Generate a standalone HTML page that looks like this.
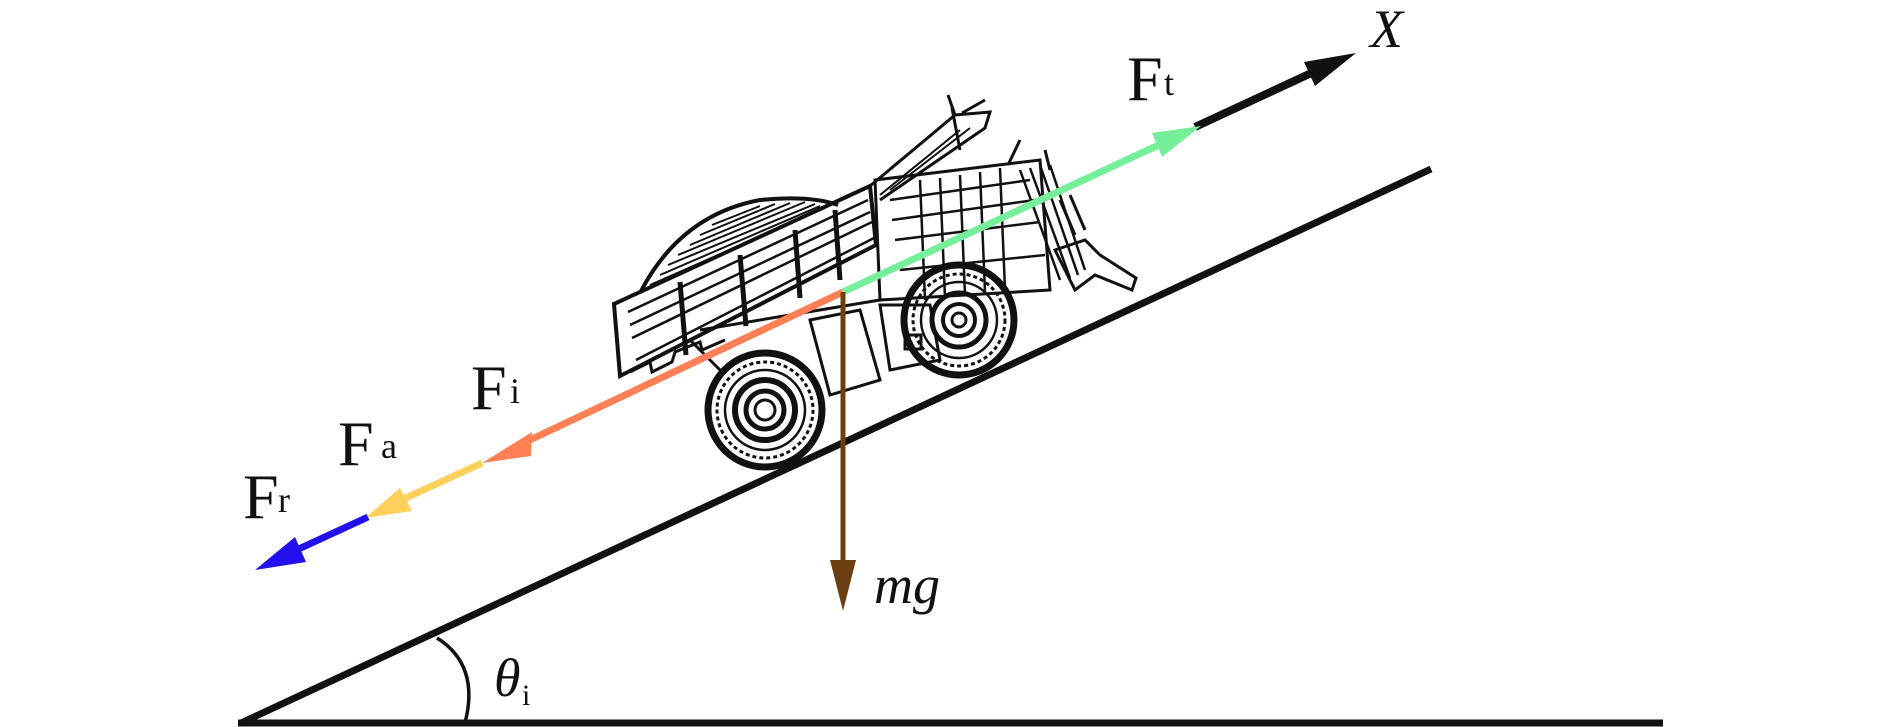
<!DOCTYPE html>
<html><head><meta charset="utf-8"><style>
html,body{margin:0;padding:0;background:#fff;}
svg{display:block;}
text{font-family:"Liberation Serif",serif;fill:#111;}
</style></head><body>
<svg width="1890" height="727" viewBox="0 0 1890 727" xmlns="http://www.w3.org/2000/svg">
<!-- ground & incline -->
<line x1="238" y1="723" x2="1663" y2="723" stroke="#111" stroke-width="7"/>
<line x1="241" y1="723" x2="1431" y2="169" stroke="#111" stroke-width="7"/>
<path d="M437,638 Q480,665 465,723" fill="none" stroke="#111" stroke-width="3.5"/>

<!-- truck (approximate line art) -->
<g fill="none" stroke="#111" stroke-width="3">
  <!-- load heap -->
  <path d="M640,293 Q680,215 760,200 Q810,195 838,205" stroke-width="4"/>
  <path d="M650,285 L825,208 M660,275 L820,206 M668,265 L815,204 M678,255 L805,202 M690,245 L790,203 M700,235 L775,204 M712,225 L760,206" stroke-width="2"/>
  <!-- dump body -->
  <path d="M614,304 L870,186 L876,245 L620,376 Z" stroke-width="4"/>
  <path d="M628,312 L868,200 M632,338 L872,222 M636,360 L874,238 M630,325 L870,212" stroke-width="2.5"/>
  <path d="M680,282 L686,355 M740,255 L746,326 M795,230 L800,298 M835,210 L840,280" stroke-width="5"/>
  <path d="M630,372 L650,362 L652,372 L672,362 L675,352 L700,342 L702,350 L725,340" stroke-width="3"/>
  <!-- canopy -->
  <path d="M870,186 L955,115 L990,112 L985,128 L880,200" stroke-width="3"/>
  <path d="M880,195 L960,130 M890,190 L970,128" stroke-width="2"/>
  <path d="M952,108 L960,150 M955,115 L948,95 M962,113 L985,100"/>
  <!-- cab / frame -->
  <path d="M875,180 L1040,160 L1050,290 L880,300 Z"/>
  <path d="M890,200 L1030,180 M895,240 L1040,222 M900,270 L1045,255 M892,220 L1035,200 M920,180 L925,300 M960,175 L965,295 M1000,168 L1005,290 M940,178 L945,298 M980,172 L985,292" stroke-width="2.5"/>
  <path d="M1020,170 L1060,280 M1030,168 L1070,278 M1040,165 L1078,275 M1050,165 L1085,270" stroke-width="2.5"/>
  <path d="M1055,250 L1085,240 L1100,255 L1136,278 L1132,290 L1095,275 L1075,290 Z"/>
  <path d="M1060,200 L1075,235 M1070,195 L1085,230 M1045,150 L1050,170 M1008,165 L1020,140"/>
  <!-- chassis below -->
  <path d="M700,330 L880,300 M690,340 L720,370 M880,305 L930,305 L940,360 L890,370 Z M810,320 L860,310 L880,380 L830,395 Z"/>
  <rect x="905" y="335" width="16" height="14"/>
  <!-- rear wheel -->
  <circle cx="765" cy="410" r="57" stroke-width="7"/>
  <circle cx="765" cy="410" r="48" stroke-width="3" stroke-dasharray="4 3"/>
  <circle cx="765" cy="410" r="40" stroke-width="2.5"/>
  <circle cx="765" cy="410" r="30" stroke-width="6"/>
  <circle cx="765" cy="410" r="19" stroke-width="5"/>
  <circle cx="765" cy="410" r="10" stroke-width="3"/>
  <!-- front wheel -->
  <circle cx="959" cy="320" r="55" stroke-width="7"/>
  <circle cx="959" cy="320" r="46" stroke-width="3" stroke-dasharray="4 3"/>
  <circle cx="959" cy="320" r="38" stroke-width="2.5"/>
  <circle cx="959" cy="320" r="27" stroke-width="5"/>
  <circle cx="959" cy="320" r="16" stroke-width="4"/>
  <circle cx="959" cy="320" r="7" stroke-width="3"/>
</g>

<!-- X axis -->
<line x1="1195" y1="127" x2="1320" y2="69" stroke="#111" stroke-width="8"/>
<polygon points="1356,53 1304,62 1315,86" fill="#111"/>

<!-- Ft green -->
<line x1="843" y1="292" x2="1165" y2="142" stroke="#77ee99" stroke-width="7"/>
<polygon points="1201,126 1152,133 1162,157" fill="#77ee99"/>

<!-- Fi orange -->
<line x1="843" y1="292" x2="515" y2="447" stroke="#ff8055" stroke-width="7"/>
<polygon points="482,463 532,432 531,456" fill="#ff8055"/>

<!-- Fa yellow -->
<line x1="482" y1="463" x2="395" y2="503" stroke="#fcd05a" stroke-width="7"/>
<polygon points="365,518 400,488 412,511" fill="#fcd05a"/>

<!-- Fr blue -->
<line x1="368" y1="517" x2="290" y2="553" stroke="#2211ee" stroke-width="7"/>
<polygon points="255,570 295,537 306,562" fill="#2211ee"/>

<!-- mg -->
<line x1="843" y1="292" x2="843" y2="565" stroke="#6b3f0f" stroke-width="5"/>
<polygon points="830,560 856,560 843,611" fill="#6b3f0f"/>

<!-- labels -->
<text x="1370" y="47" font-size="54" font-style="italic">X</text>
<text x="1127" y="100" font-size="64">F</text><text x="1164" y="95" font-size="36">t</text>
<text x="471" y="409" font-size="64">F</text><text x="510" y="403" font-size="36">i</text>
<text x="338" y="465" font-size="64">F</text><text x="381" y="458" font-size="36">a</text>
<text x="243" y="518" font-size="64">F</text><text x="278" y="512" font-size="36">r</text>
<text x="874" y="603" font-size="54" font-style="italic">mg</text>
<text x="494" y="696" font-size="54" font-style="italic">θ</text><text x="522" y="705" font-size="30">i</text>
</svg>
</body></html>
